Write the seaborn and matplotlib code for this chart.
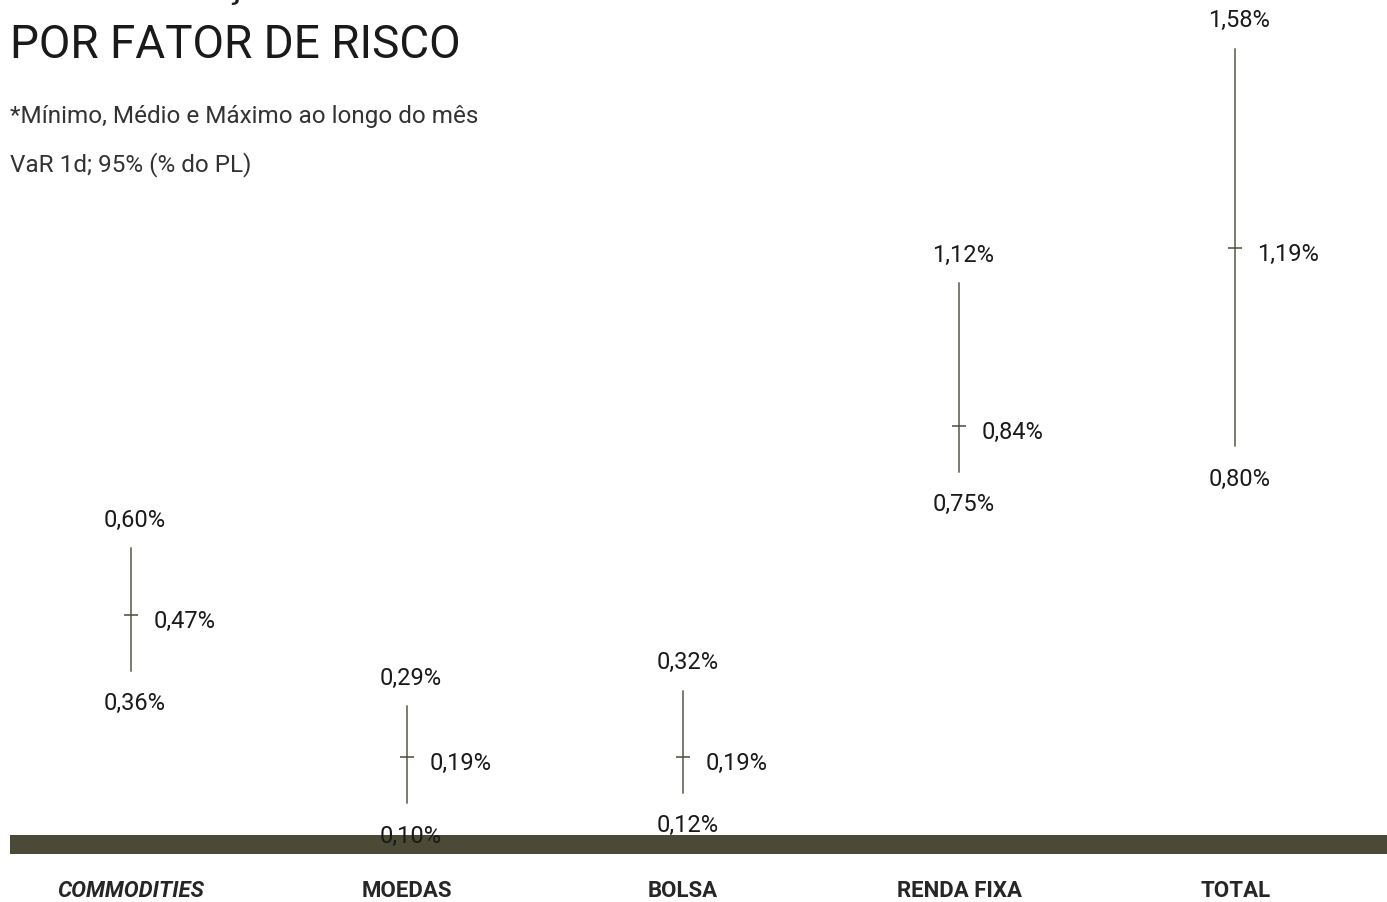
import numpy as np
import pandas as pd
import seaborn as sns
import matplotlib.pyplot as plt

# VaR 1d 95% (% do PL) por fator de risco - min / medio / max no mes
categories = ["COMMODITIES", "MOEDAS", "BOLSA", "RENDA FIXA", "TOTAL"]
var_min = [0.36, 0.10, 0.12, 0.75, 0.80]
var_mean = [0.47, 0.19, 0.19, 0.84, 1.19]
var_max = [0.60, 0.29, 0.32, 1.12, 1.58]

line_color = "#7d7b6d"
band_color = "#4b4a37"


def fmt(v):
    return f"{v:.2f}".replace(".", ",") + "%"


sns.set_theme(style="white")
plt.rcParams["font.family"] = ["Roboto", "DejaVu Sans"]
plt.rcParams["text.color"] = "#1a1a1a"

fig = plt.figure(figsize=(13.87, 9.03), dpi=100)
ax = fig.add_axes([10 / 1387, 48 / 903, 1377 / 1387, 855 / 903])

pos = np.arange(len(categories))
df = pd.DataFrame({
    "pos": np.concatenate([pos, pos]),
    "cat": categories + categories,
    "valor": var_min + var_max,
})
df_mean = pd.DataFrame({"pos": pos, "cat": categories, "valor": var_mean})

# range lines (min -> max)
sns.lineplot(data=df, x="pos", y="valor", units="cat", estimator=None,
             color=line_color, linewidth=1.4, ax=ax)
# mean ticks
sns.scatterplot(data=df_mean, x="pos", y="valor", marker="_", s=110,
                color=band_color, linewidth=1.1, ax=ax, zorder=3)

for i in range(len(categories)):
    ax.annotate(fmt(var_max[i]), (pos[i], var_max[i]), xytext=(3, 21),
                textcoords="offset points", ha="center", va="center", fontsize=17)
    ax.annotate(fmt(var_min[i]), (pos[i], var_min[i]), xytext=(3, -23),
                textcoords="offset points", ha="center", va="center", fontsize=17)
    ax.annotate(fmt(var_mean[i]), (pos[i], var_mean[i]), xytext=(16, -4),
                textcoords="offset points", ha="left", va="center", fontsize=17)

# base band
ax.axhspan(0, 0.037, color=band_color, lw=0)

ax.set_xlim(-0.438, 4.55)
ax.set_ylim(0, 1.678)
ax.set_xlabel("")
ax.set_ylabel("")
ax.set_yticks([])
ax.set_xticks(pos)
ax.set_xticklabels(categories, fontsize=16, fontweight="bold")
ax.get_xticklabels()[0].set_fontstyle("italic")
ax.tick_params(axis="x", length=0, pad=18)
for s in ax.spines.values():
    s.set_visible(False)

# titles (first line is cut by the top edge, as in the original)
fig.text(10 / 1387, 1 + 4 / 903, "DISTRIBUIÇÃO", fontsize=33, va="baseline")
fig.text(10 / 1387, 1 - 58 / 903, "POR FATOR DE RISCO", fontsize=33,
         va="baseline")
fig.text(10 / 1387, 1 - 117 / 903, "*Mínimo, Médio e Máximo ao longo do mês",
         fontsize=17.5, va="center", color="#333333")
fig.text(10 / 1387, 1 - 165 / 903, "VaR 1d; 95% (% do PL)", fontsize=17.5,
         va="center", color="#333333")

fig.savefig("out.png", dpi=100)
